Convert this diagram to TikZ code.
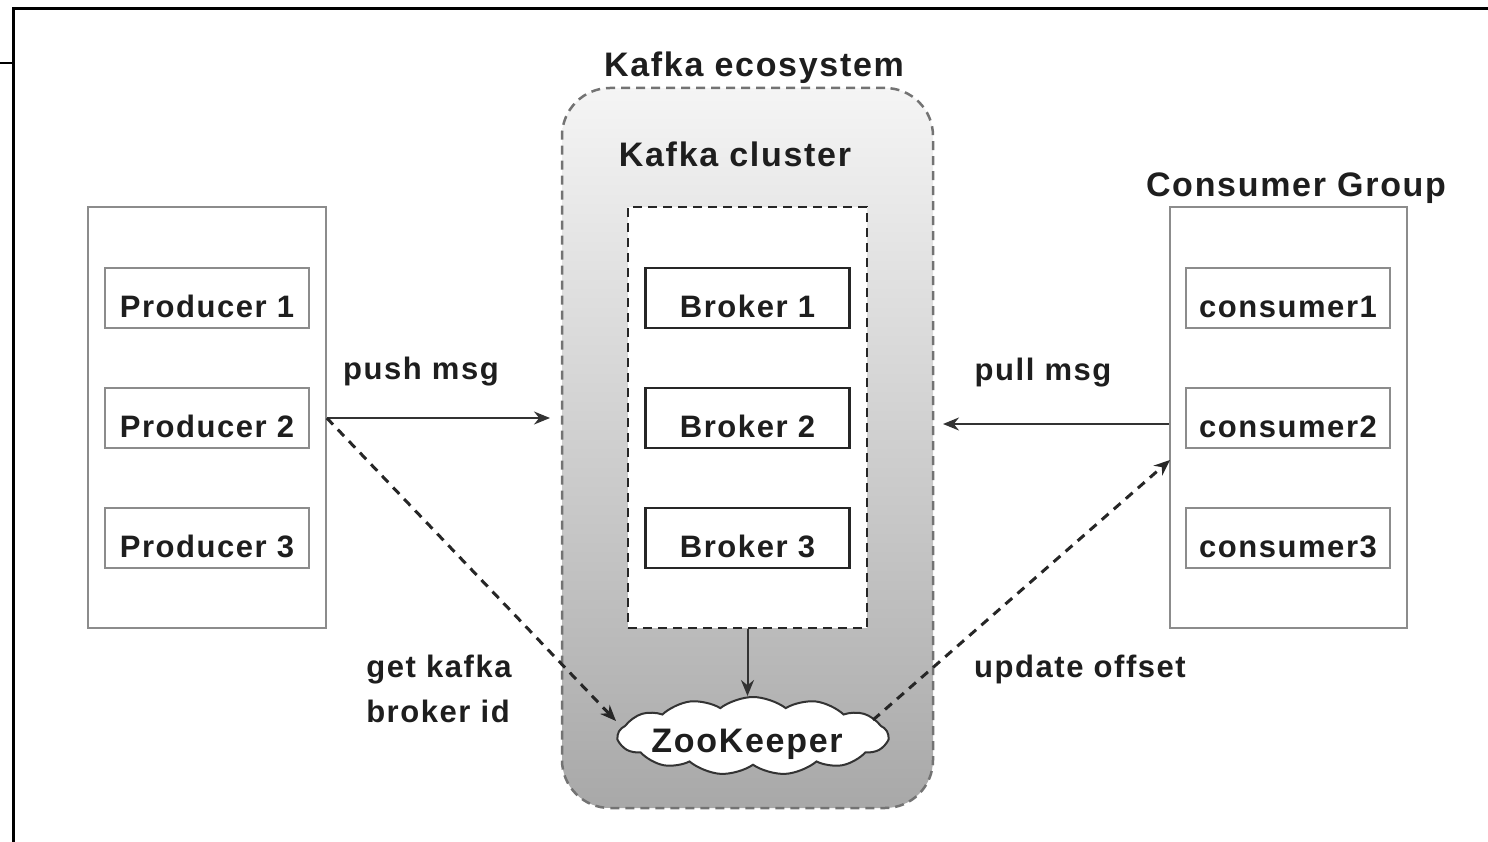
\documentclass[tikz,border=0pt]{standalone}
\usepackage{fontspec}
\setmainfont[LetterSpace=5]{Liberation Sans}
\usetikzlibrary{shapes.symbols, arrows.meta}
\definecolor{txt}{HTML}{1E1E1E}
\definecolor{boxgray}{HTML}{8C8C8C}
\begin{document}
\begin{tikzpicture}[x=1pt,y=-1pt,
  lbl/.style={font=\fontsize{31}{35}\selectfont\bfseries, text=txt, inner sep=0pt, anchor=base},
  ttl/.style={font=\fontsize{34}{38}\selectfont\bfseries, text=txt, inner sep=0pt, anchor=base},
  group/.style={draw=boxgray, line width=1.6pt, fill=white, minimum width=238pt, minimum height=421pt, inner sep=0pt},
  item/.style={draw=boxgray, line width=1.6pt, fill=white, minimum width=204pt, minimum height=60pt, inner sep=0pt,
    font=\fontsize{31}{35}\selectfont\bfseries, text=txt, text height=49pt, text depth=11pt},
  broker/.style={item, draw=black!85, line width=2.2pt},
  arr/.style={draw=black!80, line width=2pt, -{Stealth[length=16pt,width=13pt]}},
  dasharr/.style={draw=black!85, line width=3pt, dash pattern=on 9pt off 7pt, -{Stealth[length=16pt,width=13pt]}}
]
\useasboundingbox (0,0) rectangle (1488,842);
% frame lines
\draw[line width=3pt] (13.5,842) -- (13.5,9) -- (1488,9);
\draw[line width=2.5pt] (0,63) -- (13.5,63);

% ecosystem
\node[draw=black!55, line width=2.5pt, dash pattern=on 9pt off 6pt, rounded corners=48pt,
  top color=white!96!black, bottom color=black!34, minimum width=371pt, minimum height=720pt]
  (eco) at (747.5,448) {};
\node[ttl] (ecol) at (754,77) {Kafka ecosystem};
\node[ttl] (clul) at (735,167) {Kafka cluster};

% cluster
\node[draw=black!85, line width=2.2pt, dash pattern=on 9pt off 6pt, fill=white,
  minimum width=239pt, minimum height=421pt, inner sep=0pt] (clu) at (747.5,417.5) {};
\node[broker] (b1) at (747.5,298) {Broker 1};
\node[broker] (b2) at (747.5,418) {Broker 2};
\node[broker] (b3) at (747.5,538) {Broker 3};

% producers
\node[group] (pg) at (207,417.5) {};
\node[item] (p1) at (207,298) {Producer 1};
\node[item] (p2) at (207,418) {Producer 2};
\node[item] (p3) at (207,538) {Producer 3};

% consumers
\node[ttl] (cgl) at (1296,197) {Consumer Group};
\node[group, minimum width=237pt] (cg) at (1288.5,417.5) {};
\node[item] (c1) at (1288,298) {consumer1};
\node[item] (c2) at (1288,418) {consumer2};
\node[item] (c3) at (1288,538) {consumer3};

% zookeeper
\node[cloud, cloud puffs=13, cloud puff arc=75, aspect=3.6, draw=black!80, line width=2pt, fill=white,
  minimum width=270pt, minimum height=78pt, inner sep=0pt] (zk) at (753,736) {};
\node[ttl] (zkl) at (747,752) {ZooKeeper};

% labels
\node[lbl] (pushl) at (421,379) {push msg};
\node[lbl] (pulll) at (1043,380) {pull msg};
\node[lbl] (getl1) at (439,677) {get kafka};
\node[lbl] (getl2) at (438,722) {broker id};
\node[lbl] (updl) at (1080,677) {update offset};

% connectors
\coordinate (pushend) at (550,418);
\coordinate (pullend) at (943,424);
\coordinate (updend) at (1170,460);
\coordinate (zkin) at (616,721);
\coordinate (zkout) at (873,720);
\draw[arr] (pg.east |- pushend) -- (pushend);
\draw[arr] (cg.west |- pullend) -- (pullend);
\draw[dasharr] (pg.east |- pushend) -- (zkin);
\draw[dasharr] (zkout) -- (updend);
\draw[arr] (clu.south) -- (clu.south |- zk.north);
\end{tikzpicture}
\end{document}
